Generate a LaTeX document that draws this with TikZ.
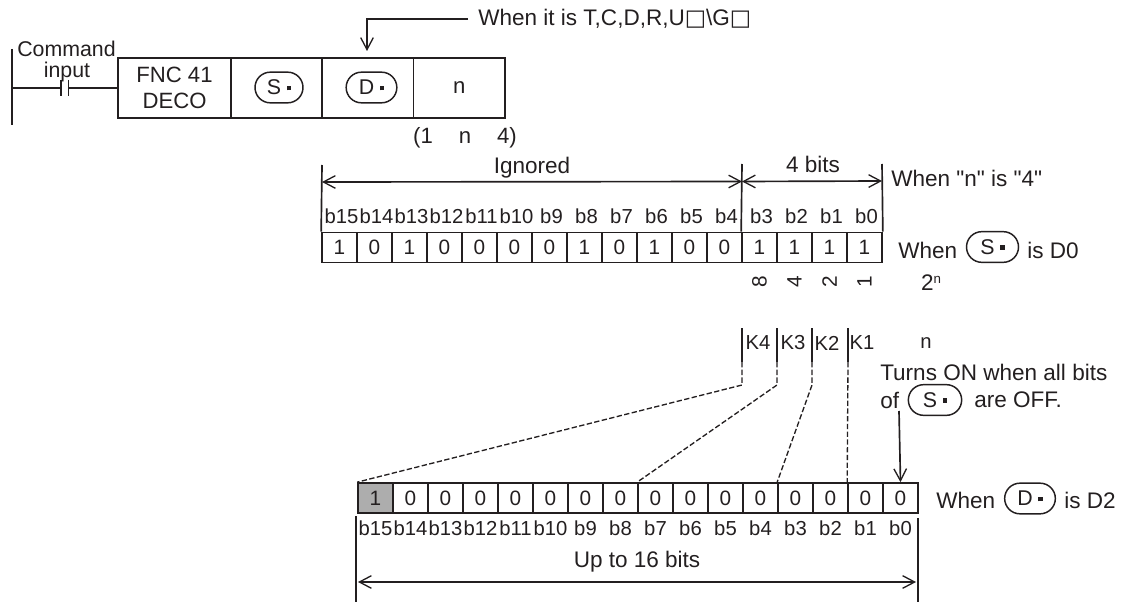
\documentclass[tikz,border=0pt]{standalone}
\usepackage{fontspec}
\setmainfont{Liberation Sans}
\newfontfamily\plainsans{Liberation Sans}
\newfontfamily\symfont{DejaVu Sans}
\usetikzlibrary{arrows.meta,shapes.misc}
\definecolor{ink}{HTML}{231F20}
\newcommand{\pilldot}{\hspace{4pt}\raisebox{3.4pt}{\rule{3.4pt}{3.4pt}}}
\tikzset{
  wire/.style={draw=ink,line width=1.25pt},
  dashwire/.style={draw=ink,line width=1pt,dash pattern=on 4pt off 1.8pt},
  barb/.style={-{Straight Barb[length=9pt,width=9.5pt,line width=1pt]}},
  dbarb/.style={{Straight Barb[length=9pt,width=9.5pt,line width=1pt]}-{Straight Barb[length=9pt,width=9.5pt,line width=1pt]}},
  lbl/.style={text=ink,font=\fontsize{16.9}{19}\selectfont,inner sep=0pt},
  midlbl/.style={lbl,font=\fontsize{15.2}{17}\selectfont},
  bitlbl/.style={lbl,font=\fontsize{15.2}{17}\selectfont},
  cell/.style={draw=ink,line width=1.25pt,minimum width=26.25pt,minimum height=22.5pt,inner sep=0pt,text=ink,font=\fontsize{15.6}{17}\selectfont},
  fbox/.style={draw=ink,line width=1.25pt,minimum height=45pt,inner sep=0pt,text=ink,align=center,font=\fontsize{16.6}{19.5}\selectfont},
  pill/.style={rounded rectangle,draw=ink,line width=1.1pt,inner sep=0pt,minimum height=23pt,text=ink,font=\fontsize{16}{17}\selectfont},
}
\begin{document}
\begin{tikzpicture}[x=0.75pt,y=-0.75pt]
\useasboundingbox (0,0) rectangle (1127,602);
% ladder
\coordinate (railT) at (12,49);
\coordinate (railB) at (12,125);
\coordinate (rung) at (12,88);
\coordinate (cL) at (61,88);
\coordinate (cR) at (68.5,88);
\coordinate (cLt) at (61,80);
\coordinate (cLb) at (61,96);
\coordinate (cRt) at (68.5,80);
\coordinate (cRb) at (68.5,96);
\draw[wire] (railT) -- (railB);
\node[fbox,minimum width=84.75pt] (fnc) at (174.5,88) {FNC 41\\DECO};
\node[fbox,minimum width=68.25pt] (sbox) at (276.5,88) {};
\node[fbox,minimum width=68.6pt] (dbox) at (367.75,88) {};
\node[fbox,minimum width=68.6pt] (nbox) at (459.25,88) {\raisebox{-3pt}{n}};
\draw[wire] (rung) -- (cL) (cR) -- (fnc.west);
\draw[wire] (cLt) -- (cLb) (cRt) -- (cRb);
\node[lbl,font=\fontsize{16}{18}\selectfont] (cmd) at (66.5,49) {Command};
\node[lbl,font=\fontsize{16}{18}\selectfont] (inp) at (67,72) {input};
\node[pill,minimum width=36pt] (sp1) at (279,87.5) {S\pilldot};
\node[pill,minimum width=38pt] (dp1) at (371.5,87.5) {D\pilldot};
\node[lbl,font=\fontsize{16.6}{18}\selectfont] (range) at (465,137.5) {(1\hspace{19.5pt}n\hspace{19.5pt}4)};
\node[lbl,anchor=west] (whenT) at (478,19) {When it is T,C,D,R,U{\symfont □}\textbackslash G{\symfont □}};
\coordinate (bend) at (367,19);
\coordinate (tip) at (367,51);
\draw[wire,barb] (whenT.west) ++(-10,0) -- (bend) -- (tip);
% table 1
\foreach \v [count=\i from 0] in {1,0,1,0,0,0,0,1,0,1,0,0,1,1,1,1} {
  \pgfmathtruncatemacro{\b}{15-\i}
  \node[cell] (a\b) at ({339.5+35*\i},247.5) {\v};
  \node[bitlbl] (la\b) at ({341.5+35*\i},216) {b\b};
}
\coordinate (t1a) at (322,165);
\coordinate (t1b) at (742,164);
\coordinate (t1c) at (882,164);
\draw[wire] (t1a) -- (a15.north west);
\draw[wire] (t1b) -- (a3.north west);
\draw[wire] (t1c) -- (a0.north east);
\coordinate (d1a) at (322,182);
\coordinate (d1b) at (742,181.5);
\coordinate (d1c) at (882,181);
\draw[wire,dbarb] (d1a) -- (d1b);
\draw[wire,dbarb] (d1b) -- (d1c);
\node[lbl] (ign) at (532,168) {Ignored};
\node[lbl] (four) at (813,164) {4 bits};
\node[lbl,anchor=west] (whenN) at (891,178) {\plainsans When "n" is "4"};
\node[lbl,anchor=west] (when1) at (898,250) {When};
\node[pill,minimum width=39pt] (sp2) at (992.5,247) {S\pilldot};
\node[lbl,anchor=west] (isd0) at (1027,250) {is D0};
\foreach \v/\c in {8/3,4/2,2/1,1/0} {
  \node[cell,draw=none,rotate=90,minimum width=0pt,minimum height=0pt] (w\v) at ({882-17.5-35*\c},282) {\v};
}
\node[lbl] (pow) at (931,283) {2\raisebox{5.5pt}{\fontsize{10}{10}\selectfont n}};
% K row
\foreach \n/\tx in {K4/758,K3/793,K2/827,K1/862} {
  \node[midlbl] (\n) at (\tx,343) {\n};
}
\node[midlbl] (nk) at (926,343) {n};
\node[lbl,anchor=west] (turn) at (880,372) {Turns ON when all bits};
\node[lbl,anchor=west] (of) at (880,400) {of};
\node[pill,minimum width=40pt] (sp3) at (935,400) {S\pilldot};
\node[lbl,anchor=west] (off) at (974,400) {are OFF.};
% table 2
\foreach \v [count=\i from 0] in {1,0,0,0,0,0,0,0,0,0,0,0,0,0,0,0} {
  \pgfmathtruncatemacro{\b}{15-\i}
  \ifnum\i=0
    \node[cell,fill=black!32] (c\b) at ({375.5+35*\i},498) {\v};
  \else
    \node[cell] (c\b) at ({375.5+35*\i},498) {\v};
  \fi
  \node[bitlbl] (lc\b) at ({375.5+35*\i},528.5) {b\b};
}
\foreach \n/\x in {K4/742,K3/777,K2/812,K1/848} {
  \coordinate (\n t) at (\x,328);
  \coordinate (\n m) at (\x,362);
  \coordinate (\n e) at (\x,385);
  \draw[wire] (\n t) -- (\n m);
}
\draw[dashwire] (K4m) -- (K4e) -- (c15.north west);
\draw[dashwire] (K3m) -- (K3e) -- (c7.north west);
\draw[dashwire] (K2m) -- (K2e) -- (c3.north west);
\draw[dashwire] (K1m) -- (c1.north west);
\coordinate (offa) at (899,411);
\draw[wire,barb] (offa) -- (c0.north);
\node[lbl,anchor=west] (when2) at (936,500) {When};
\node[pill,minimum width=38pt] (dp2) at (1030,498.5) {D\pilldot};
\node[lbl,anchor=west] (isd2) at (1064,500) {is D2};
\node[lbl] (upto) at (637,562) {Up to 16 bits};
\coordinate (ulT) at (356,516);
\coordinate (ulB) at (356,602);
\coordinate (urT) at (918,518);
\coordinate (urB) at (918,602);
\draw[wire] (ulT) -- (ulB);
\draw[wire] (urT) -- (urB);
\coordinate (dL) at (358,582);
\coordinate (dR) at (916,582);
\draw[wire,dbarb] (dL) -- (dR);
\end{tikzpicture}
\end{document}
